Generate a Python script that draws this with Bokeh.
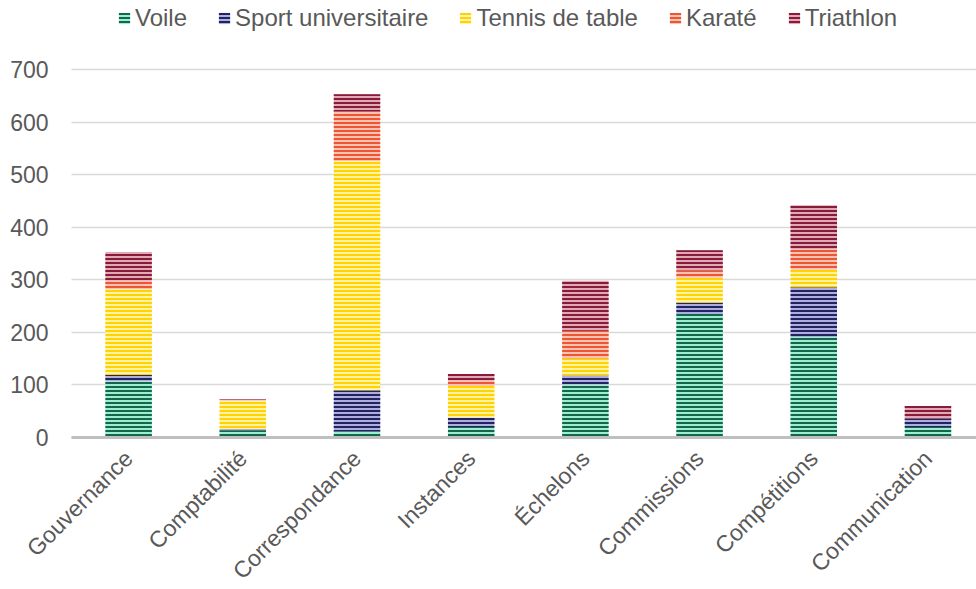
from bokeh.plotting import figure
from bokeh.models import ColumnDataSource, FixedTicker, Legend, LegendItem
from bokeh.embed import file_html
from bokeh.resources import INLINE

categories = ["Gouvernance", "Comptabilité", "Correspondance", "Instances",
              "Échelons", "Commissions", "Compétitions", "Communication"]
series = ["Voile", "Sport universitaire", "Tennis de table", "Karaté", "Triathlon"]

voile = [107, 14, 12, 20, 101, 235, 191, 20]
sport = [12, 2, 78, 18, 17, 22, 95, 16]
tennis = [163, 54, 436, 60, 33, 47, 33, 0]
karate = [16, 2, 94, 10, 52, 14, 39, 0]
triathlon = [55, 1, 33, 13, 95, 38, 84, 24]

y_ticks = [0, 100, 200, 300, 400, 500, 600, 700]

dark = ["#16664c", "#23235f", "#ffd200", "#ee5533", "#8a1b38"]
light = ["#9beecf", "#aeaee0", "#fff4a6", "#f9c3b3", "#e0a9b8"]

src = ColumnDataSource(dict(
    x=list(range(len(categories))),
    v0=voile, v1=sport, v2=tennis, v3=karate, v4=triathlon,
))

FONT = "Liberation Sans"
TXT = "#595959"

X_LO, X_HI = -0.5, 7.425

# The frame covers the whole canvas; both axes are pinned at data locations so
# their labels (and the legend) are drawn inside it without being clipped.
p = figure(width=976, height=589, output_backend="svg", toolbar_location=None,
           x_range=(-1.1218, X_HI), y_range=(-289.1, 831.25),
           min_border_left=0, min_border_right=0, min_border_top=0,
           min_border_bottom=0)
p.outline_line_color = None
p.background_fill_color = "white"

grid = p.ygrid[0]
if "cross_bounds" in grid.properties():
    grid.ticker = FixedTicker(ticks=y_ticks)
    grid.grid_line_color = "#d9d9d9"
    grid.grid_line_width = 1.5
    grid.cross_bounds = (X_LO, X_HI)
else:
    grid.grid_line_color = None
    p.segment(x0=[X_LO] * len(y_ticks), x1=[X_HI] * len(y_ticks),
              y0=y_ticks, y1=y_ticks, line_color="#d9d9d9", line_width=1.5)

renderers = p.vbar_stack(["v0", "v1", "v2", "v3", "v4"], x="x", width=0.407,
                         source=src, fill_color=light, line_color=None,
                         hatch_pattern="horizontal_line", hatch_color=dark,
                         hatch_scale=4, hatch_weight=2)

p.xgrid.grid_line_color = None

p.yaxis.fixed_location = X_LO
p.yaxis.bounds = (0, 700)
p.yaxis.ticker = FixedTicker(ticks=y_ticks)
p.yaxis.axis_line_color = None
p.yaxis.major_tick_line_color = None
p.yaxis.minor_tick_line_color = None
p.yaxis.major_label_standoff = 17
p.yaxis.major_label_text_font = FONT
p.yaxis.major_label_text_font_size = "23px"
p.yaxis.major_label_text_color = TXT

p.xaxis.fixed_location = 0
p.xaxis.bounds = (X_LO, X_HI)
p.xaxis.ticker = FixedTicker(ticks=list(range(len(categories))))
p.xaxis.major_label_overrides = {i: c for i, c in enumerate(categories)}
p.xaxis.major_label_orientation = 0.785398
p.xaxis.axis_line_color = "#bfbfbf"
p.xaxis.axis_line_width = 3
p.xaxis.major_tick_line_color = None
p.xaxis.minor_tick_line_color = None
p.xaxis.major_tick_in = 0
p.xaxis.major_tick_out = 0
p.xaxis.major_label_standoff = 17
p.xaxis.major_label_text_font = FONT
p.xaxis.major_label_text_font_size = "23px"
p.xaxis.major_label_text_color = TXT

legend = Legend(items=[LegendItem(label=s, renderers=[r]) for s, r in zip(series, renderers)],
                orientation="horizontal", location=(117, 557),
                glyph_width=14, glyph_height=14, label_standoff=4, spacing=30,
                padding=0, margin=0, border_line_color=None,
                background_fill_alpha=0,
                label_text_font=FONT, label_text_font_size="24px",
                label_text_color=TXT)
p.add_layout(legend, "center")

open("out.html", "w").write(file_html(p, INLINE))
